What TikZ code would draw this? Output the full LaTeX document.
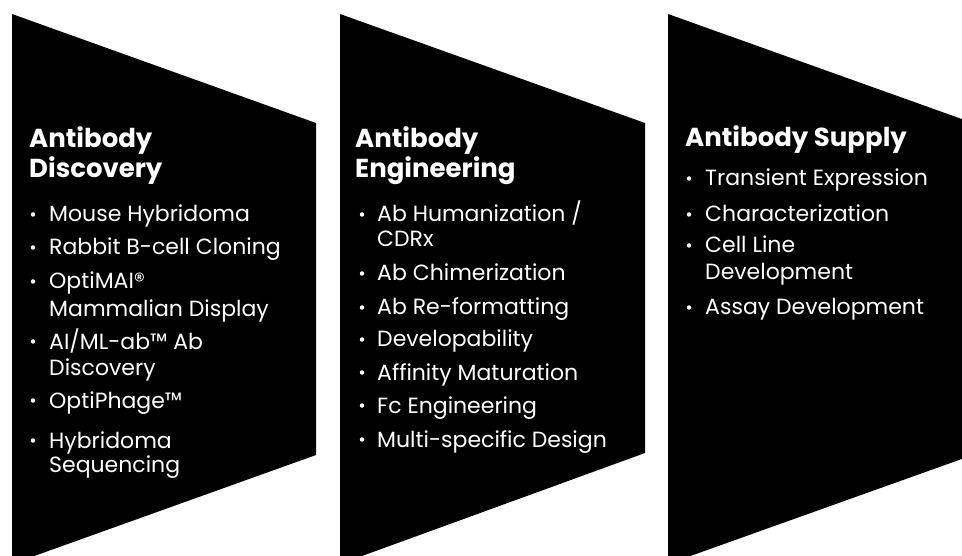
\documentclass[tikz,border=0pt]{standalone}
\usepackage{fontspec}
\setmainfont{Poppins}
\usepackage{tikz}
\usetikzlibrary{calc}

\begin{document}
\begin{tikzpicture}[x=1pt, y=-1pt, line join = round]
\tikzstyle{chevron}=[fill=black]
\tikzstyle{heading}=[anchor=base west, inner sep=0pt, text=white, font=\fontsize{26}{26}\selectfont\bfseries]
\tikzstyle{item}=[anchor=base west, inner sep=0pt, text=white, font=\fontsize{22}{22}\selectfont]
\tikzstyle{dot}=[circle, fill=white, inner sep=0pt, minimum size=4.5pt]
\useasboundingbox (0,0) rectangle (962,556);
\clip (0,0) rectangle (962,556);

% the three stages
\path[chevron] (12,14) -- (316,123) -- (316,455) -- (12,564) -- cycle;
\path[chevron] (340,14) -- (645,123) -- (645,453) -- (340,564) -- cycle;
\path[chevron] (668,14) -- (973,123) -- (973,455) -- (668,564) -- cycle;

% discovery
\node[heading] (h1a) at (29,148) {Antibody};
\node[heading] (h1b) at (29,178) {Discovery};
\node[item] (d1) at (49,222) {Mouse Hybridoma};
\node[item] (d2) at (49,255) {Rabbit B-cell Cloning};
\node[item] (d3) at (49,289) {OptiMAI®};
\node[item] (d3b) at (49,317) {Mammalian Display};
\node[item] (d4) at (49,349) {AI/ML-ab™ Ab};
\node[item] (d4b) at (49,375) {Discovery};
\node[item] (d5) at (49,408) {OptiPhage™};
\node[item] (d6) at (49,448) {Hybridoma};
\node[item] (d6b) at (49,472) {Sequencing};
\foreach \n in {d1,d2,d3,d4,d5,d6}
  \node[dot] (dot-\n) at ([xshift=-16pt,yshift=7.5pt]\n.base west) {};

% engineering
\node[heading] (h2a) at (355,148) {Antibody};
\node[heading] (h2b) at (355,178) {Engineering};
\node[item] (e1) at (377,222) {Ab Humanization /};
\node[item] (e1b) at (377,247) {CDRx};
\node[item] (e2) at (377,281) {Ab Chimerization};
\node[item] (e3) at (377,315) {Ab Re-formatting};
\node[item] (e4) at (377,347) {Developability};
\node[item] (e5) at (377,380) {Affinity Maturation};
\node[item] (e6) at (377,413) {Fc Engineering};
\node[item] (e7) at (377,447) {Multi-specific Design};
\foreach \n in {e1,e2,e3,e4,e5,e6,e7}
  \node[dot] (dot-\n) at ([xshift=-15pt,yshift=7.5pt]\n.base west) {};

% supply
\node[heading] (h3) at (685,147) {Antibody Supply};
\node[item] (s1) at (705,186) {Transient Expression};
\node[item] (s2) at (705,222) {Characterization};
\node[item] (s3) at (705,253) {Cell Line};
\node[item] (s3b) at (705,280) {Development};
\node[item] (s4) at (705,315) {Assay Development};
\foreach \n in {s1,s2,s3,s4}
  \node[dot] (dot-\n) at ([xshift=-16pt,yshift=7.5pt]\n.base west) {};
\end{tikzpicture}
\end{document}
